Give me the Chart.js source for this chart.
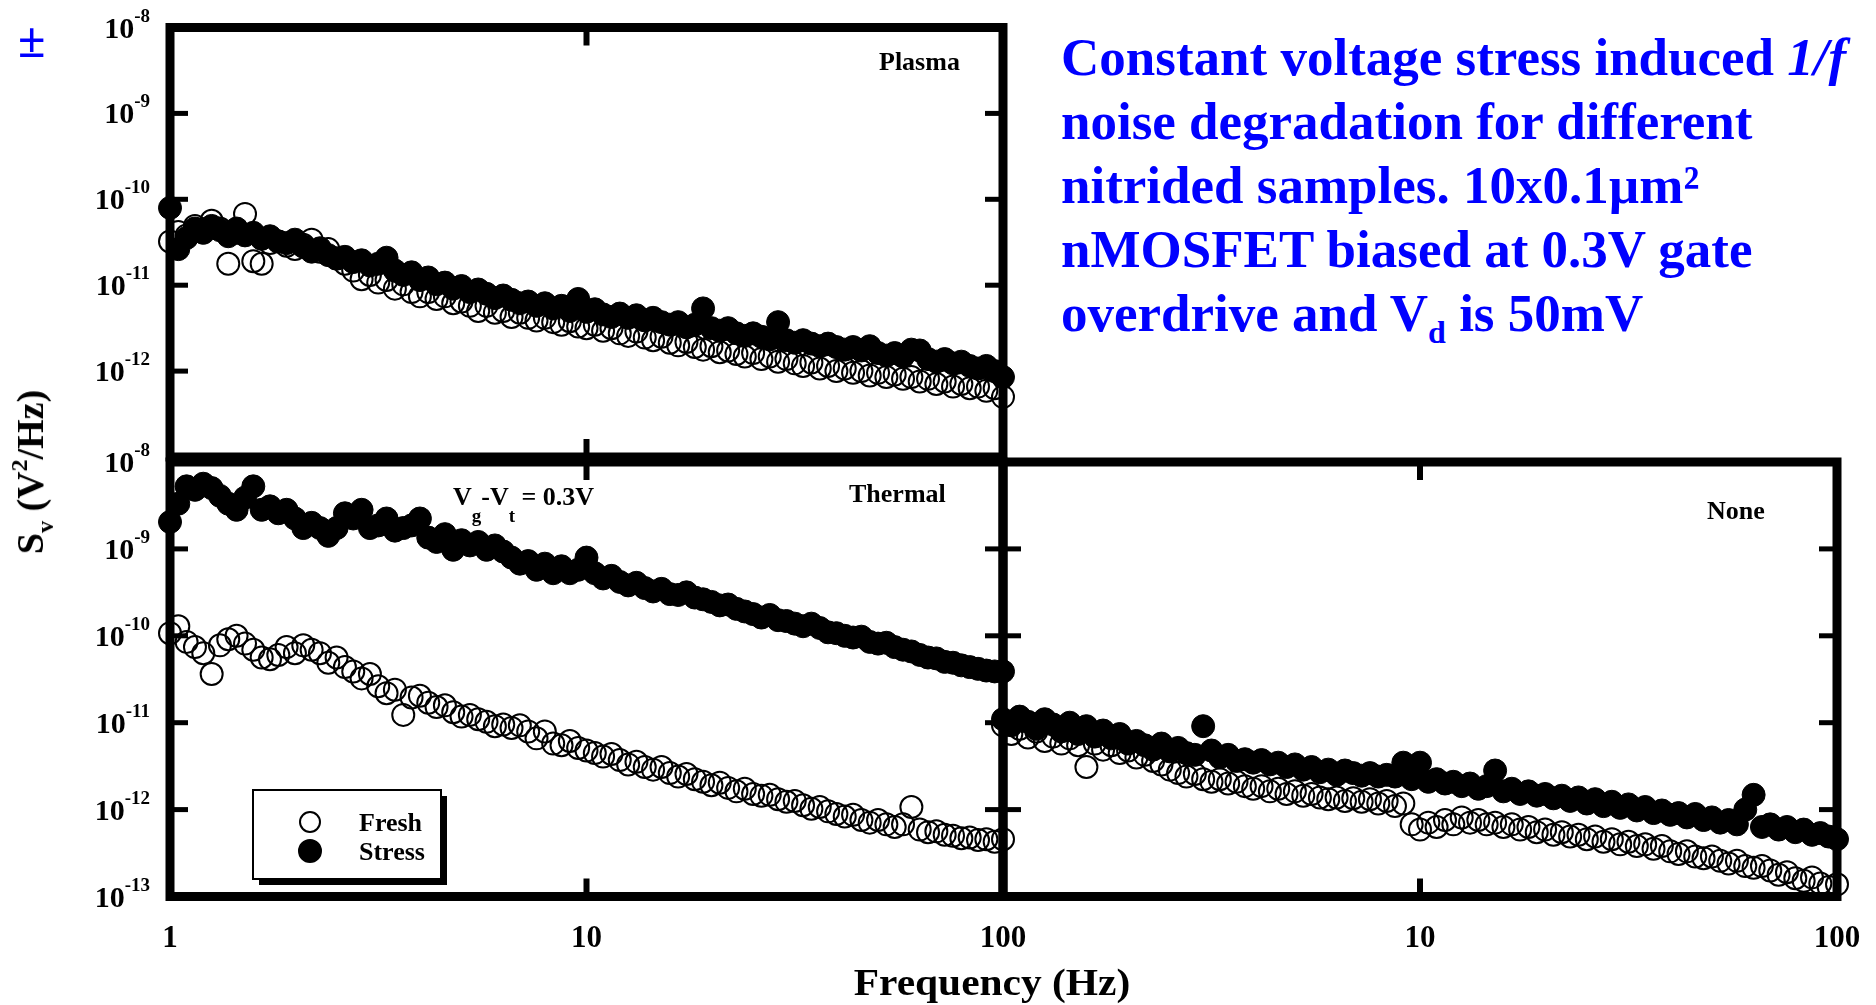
<!DOCTYPE html>
<html>
<head>
<meta charset="utf-8">
<script src="https://cdn.jsdelivr.net/npm/chart.js@4/dist/chart.umd.min.js"></script>
<style>
  body { margin: 0; background: #fff; width: 1876px; height: 1005px; overflow: hidden; position: relative; }
  canvas { position: absolute; }
  .t { position: absolute; line-height: 0; white-space: nowrap; font-family: "Liberation Serif", "Times New Roman", serif; font-weight: bold; color: #000; }
  .blue { color: #0000ff; font-size: 53px; left: 1061px; }
  .sub, .sup { position: relative; line-height: 0; }
</style>
</head>
<body>
<canvas id="plasma" width="1030" height="470" style="left:0;top:0"></canvas>
<canvas id="thermal" width="1030" height="565" style="left:0;top:440px"></canvas>
<canvas id="none" width="896" height="565" style="left:980px;top:440px"></canvas>

<div class="t" style="left:18px;top:40px;font-size:50px;color:#0000ff">±</div>
<div class="t" style="left:30px;top:471.5px;font-size:38px;transform-origin:0 0;transform:rotate(-90deg) translateX(-50%)">S<span class="sub" style="font-size:24px;top:10px">v</span> (V<span class="sup" style="font-size:24px;top:-16px">2</span>/Hz)</div>
<div class="t" style="left:992px;top:982.5px;font-size:37px;transform:translateX(-50%) scaleX(1.12)">Frequency (Hz)</div>

<div class="t" style="left:879px;top:62.2px;font-size:26px">Plasma</div>
<div class="t" style="left:849px;top:494.2px;font-size:26px">Thermal</div>
<div class="t" style="left:1707px;top:511.2px;font-size:26px">None</div>
<div class="t" style="left:453px;top:497.2px;font-size:26px">V<span class="sub" style="font-size:19px;top:17px">g</span>-V<span class="sub" style="font-size:19px;top:17px">t</span> = 0.3V</div>

<div class="t blue" style="top:57.1px">Constant voltage stress induced <i>1/f</i></div>
<div class="t blue" style="top:121.1px">noise degradation for different</div>
<div class="t blue" style="top:185.1px">nitrided samples. 10x0.1µm²</div>
<div class="t blue" style="top:249.1px">nMOSFET biased at 0.3V gate</div>
<div class="t blue" style="top:313.1px">overdrive and V<span class="sub" style="font-size:32px;top:12px">d</span> is 50mV</div>

<script>
// frequency points (Hz)
const freq = [
  1.000, 1.047, 1.096, 1.148, 1.202, 1.259, 1.318, 1.380, 1.445, 1.514,
  1.585, 1.660, 1.738, 1.820, 1.905, 1.995, 2.089, 2.188, 2.291, 2.399,
  2.512, 2.630, 2.754, 2.884, 3.020, 3.162, 3.311, 3.467, 3.631, 3.802,
  3.981, 4.169, 4.365, 4.571, 4.786, 5.012, 5.248, 5.495, 5.754, 6.026,
  6.310, 6.607, 6.918, 7.244, 7.586, 7.943, 8.318, 8.710, 9.120, 9.550,
  10.00, 10.47, 10.96, 11.48, 12.02, 12.59, 13.18, 13.80, 14.45, 15.14,
  15.85, 16.60, 17.38, 18.20, 19.05, 19.95, 20.89, 21.88, 22.91, 23.99,
  25.12, 26.30, 27.54, 28.84, 30.20, 31.62, 33.11, 34.67, 36.31, 38.02,
  39.81, 41.69, 43.65, 45.71, 47.86, 50.12, 52.48, 54.95, 57.54, 60.26,
  63.10, 66.07, 69.18, 72.44, 75.86, 79.43, 83.18, 87.10, 91.20, 95.50,
  100.0
];

// log10 of Sv (V^2/Hz)
const plasmaFresh = [
  -10.49, -10.38, -10.42, -10.31, -10.35, -10.25, -10.34, -10.75, -10.39, -10.17,
  -10.72, -10.75, -10.51, -10.49, -10.54, -10.58, -10.53, -10.47, -10.61, -10.58,
  -10.69, -10.75, -10.83, -10.93, -10.88, -10.97, -10.94, -11.04, -10.99, -11.08,
  -11.13, -11.08, -11.16, -11.13, -11.21, -11.19, -11.24, -11.30, -11.24, -11.32,
  -11.30, -11.37, -11.32, -11.38, -11.41, -11.38, -11.43, -11.46, -11.42, -11.48,
  -11.50, -11.46, -11.53, -11.50, -11.56, -11.59, -11.54, -11.61, -11.64, -11.60,
  -11.67, -11.70, -11.66, -11.72, -11.75, -11.71, -11.78, -11.76, -11.80, -11.83,
  -11.79, -11.86, -11.83, -11.89, -11.86, -11.91, -11.94, -11.90, -11.97, -11.94,
  -12.00, -11.97, -12.02, -12.00, -12.05, -12.02, -12.07, -12.04, -12.09, -12.07,
  -12.12, -12.09, -12.15, -12.12, -12.18, -12.15, -12.20, -12.18, -12.23, -12.20,
  -12.30
];
const plasmaStress = [
  -10.10, -10.58, -10.45, -10.34, -10.39, -10.31, -10.36, -10.43, -10.34, -10.42,
  -10.39, -10.46, -10.43, -10.49, -10.51, -10.47, -10.55, -10.61, -10.57, -10.65,
  -10.69, -10.67, -10.73, -10.71, -10.77, -10.75, -10.68, -10.83, -10.88, -10.85,
  -10.94, -10.91, -10.99, -10.97, -11.04, -11.01, -11.08, -11.05, -11.10, -11.15,
  -11.12, -11.17, -11.21, -11.19, -11.24, -11.21, -11.27, -11.24, -11.30, -11.16,
  -11.31, -11.28, -11.34, -11.37, -11.33, -11.38, -11.35, -11.41, -11.38, -11.43,
  -11.46, -11.43, -11.49, -11.46, -11.27, -11.50, -11.53, -11.50, -11.56, -11.59,
  -11.56, -11.60, -11.63, -11.43, -11.64, -11.67, -11.64, -11.68, -11.71, -11.68,
  -11.72, -11.75, -11.72, -11.76, -11.71, -11.79, -11.82, -11.79, -11.83, -11.75,
  -11.76, -11.86, -11.89, -11.86, -11.91, -11.89, -11.94, -11.97, -11.94, -12.00,
  -12.07
];
const thermalFresh = [
  -9.97, -9.89, -10.07, -10.13, -10.20, -10.44, -10.11, -10.04, -10.00, -10.09,
  -10.16, -10.25, -10.27, -10.22, -10.13, -10.20, -10.11, -10.16, -10.20, -10.31,
  -10.25, -10.36, -10.41, -10.49, -10.44, -10.58, -10.66, -10.62, -10.91, -10.71,
  -10.69, -10.77, -10.82, -10.80, -10.88, -10.93, -10.91, -10.96, -10.99, -11.04,
  -11.02, -11.06, -11.03, -11.10, -11.18, -11.10, -11.24, -11.26, -11.21, -11.29,
  -11.32, -11.35, -11.39, -11.36, -11.43, -11.48, -11.45, -11.51, -11.54, -11.51,
  -11.58, -11.62, -11.59, -11.65, -11.68, -11.72, -11.69, -11.75, -11.79, -11.76,
  -11.82, -11.84, -11.83, -11.88, -11.91, -11.90, -11.95, -11.99, -11.97, -12.02,
  -12.05, -12.08, -12.06, -12.12, -12.15, -12.12, -12.17, -12.20, -12.17, -11.97,
  -12.23, -12.26, -12.25, -12.29, -12.30, -12.33, -12.32, -12.35, -12.34, -12.37,
  -12.34
];
const thermalStress = [
  -8.69, -8.48, -8.28, -8.32, -8.25, -8.30, -8.39, -8.48, -8.55, -8.41,
  -8.28, -8.55, -8.51, -8.59, -8.55, -8.65, -8.76, -8.70, -8.76, -8.85,
  -8.76, -8.59, -8.65, -8.55, -8.76, -8.73, -8.65, -8.79, -8.76, -8.73,
  -8.65, -8.87, -8.92, -8.83, -9.01, -8.90, -8.96, -8.92, -9.01, -8.96,
  -9.03, -9.10, -9.17, -9.14, -9.24, -9.17, -9.28, -9.20, -9.28, -9.24,
  -9.10, -9.28, -9.34, -9.31, -9.38, -9.42, -9.39, -9.45, -9.49, -9.46,
  -9.52, -9.53, -9.50, -9.56, -9.58, -9.61, -9.65, -9.64, -9.69, -9.72,
  -9.75, -9.79, -9.76, -9.82, -9.83, -9.86, -9.89, -9.86, -9.91, -9.96,
  -9.97, -10.00, -10.02, -10.01, -10.07, -10.09, -10.08, -10.13, -10.16, -10.18,
  -10.22, -10.25, -10.26, -10.30, -10.31, -10.34, -10.36, -10.38, -10.40, -10.41,
  -10.41
];
const noneFresh = [
  -11.03, -11.13, -11.07, -11.17, -11.10, -11.21, -11.16, -11.24, -11.18, -11.26,
  -11.51, -11.24, -11.31, -11.26, -11.35, -11.32, -11.40, -11.37, -11.44, -11.48,
  -11.54, -11.58, -11.62, -11.59, -11.65, -11.68, -11.65, -11.70, -11.68, -11.73,
  -11.76, -11.73, -11.79, -11.76, -11.82, -11.79, -11.84, -11.82, -11.86, -11.88,
  -11.86, -11.90, -11.87, -11.91, -11.88, -11.93, -11.90, -11.96, -11.93, -12.17,
  -12.23, -12.15, -12.20, -12.12, -12.17, -12.09, -12.15, -12.12, -12.17, -12.15,
  -12.20, -12.17, -12.23, -12.20, -12.26, -12.23, -12.29, -12.26, -12.31, -12.29,
  -12.34, -12.31, -12.37, -12.34, -12.40, -12.37, -12.42, -12.40, -12.45, -12.42,
  -12.48, -12.51, -12.48, -12.54, -12.56, -12.54, -12.59, -12.62, -12.59, -12.65,
  -12.67, -12.65, -12.70, -12.75, -12.72, -12.79, -12.82, -12.78, -12.85, -12.89,
  -12.86
];
const noneStress = [
  -10.96, -11.03, -10.93, -10.99, -11.07, -10.96, -11.02, -11.10, -11.00, -11.13,
  -11.04, -11.16, -11.09, -11.18, -11.13, -11.24, -11.21, -11.26, -11.31, -11.24,
  -11.33, -11.29, -11.35, -11.37, -11.04, -11.32, -11.40, -11.37, -11.44, -11.42,
  -11.46, -11.43, -11.48, -11.46, -11.51, -11.48, -11.54, -11.51, -11.57, -11.54,
  -11.60, -11.55, -11.58, -11.61, -11.58, -11.62, -11.60, -11.62, -11.46, -11.65,
  -11.46, -11.68, -11.65, -11.70, -11.68, -11.73, -11.70, -11.76, -11.73, -11.55,
  -11.79, -11.76, -11.82, -11.79, -11.84, -11.82, -11.87, -11.84, -11.90, -11.86,
  -11.93, -11.88, -11.96, -11.91, -11.98, -11.94, -12.01, -11.97, -12.04, -12.01,
  -12.06, -12.04, -12.09, -12.05, -12.12, -12.09, -12.15, -12.12, -12.17, -12.00,
  -11.83, -12.20, -12.17, -12.23, -12.20, -12.26, -12.23, -12.29, -12.27, -12.31,
  -12.34
];

const xTicks = [1, 10, 100];
const yTicks = [1e-8, 1e-9, 1e-10, 1e-11, 1e-12, 1e-13];
const seriesNames = ["Fresh", "Stress"];

const FONT = '"Liberation Serif", "Times New Roman", serif';

const framePlugin = {
  id: "frame",
  afterDatasetsDraw(chart, args, o) {
    const ctx = chart.ctx;
    const a = chart.chartArea;
    const xs = chart.scales.x, ys = chart.scales.y;
    ctx.save();
    ctx.fillStyle = "#000";
    ctx.strokeStyle = "#000";

    // inward tick marks
    yTicks.forEach((v) => {
      const y = ys.getPixelForValue(v);
      if (y < a.top + 2 || y > a.bottom - 2) return;
      ctx.fillRect(a.left, y - 2.5, 18, 5);
      ctx.fillRect(a.right - 18, y - 2.5, 18, 5);
    });
    xTicks.forEach((v) => {
      const x = xs.getPixelForValue(v);
      if (x < a.left + 2 || x > a.right - 2) return;
      ctx.fillRect(x - 3, a.top, 6, 18);
      ctx.fillRect(x - 3, a.bottom - 18, 6, 18);
    });

    // frame
    ctx.lineWidth = 9;
    ctx.lineJoin = "miter";
    ctx.strokeRect(a.left, a.top, a.right - a.left, a.bottom - a.top);

    // y tick labels: 10^n
    (o.yLabels || []).forEach((v) => {
      const y = ys.getPixelForValue(v);
      const exp = String(Math.round(Math.log10(v)));
      ctx.font = "bold 19px " + FONT;
      const w2 = ctx.measureText(exp).width;
      ctx.font = "bold 30px " + FONT;
      const w1 = ctx.measureText("10").width;
      const right = a.left - 20;
      ctx.textAlign = "left";
      ctx.textBaseline = "alphabetic";
      ctx.fillText("10", right - w1 - w2, y + 10);
      ctx.font = "bold 19px " + FONT;
      ctx.fillText(exp, right - w2, y - 6);
    });

    // x tick labels
    ctx.font = "bold 31px " + FONT;
    ctx.textAlign = "center";
    ctx.textBaseline = "alphabetic";
    (o.xLabels || []).forEach((v) => {
      ctx.fillText(String(v), xs.getPixelForValue(v), a.bottom + 50);
    });

    // legend box
    if (o.legend) {
      const L = a.left + 83, T = a.top + 328, W = 188, H = 89;
      ctx.fillRect(L + 6, T + 6, W, H);
      ctx.fillStyle = "#fff";
      ctx.fillRect(L, T, W, H);
      ctx.lineWidth = 2;
      ctx.strokeRect(L, T, W, H);
      const cx = L + 57;
      [T + 32, T + 61].forEach((cy, k) => {
        const ds = chart.data.datasets.find((d) => d.label === seriesNames[k]);
        ctx.beginPath();
        ctx.arc(cx, cy, k === 0 ? 10 : 11, 0, Math.PI * 2);
        if (k === 1) { ctx.fillStyle = ds.backgroundColor; ctx.fill(); }
        ctx.lineWidth = 2;
        ctx.strokeStyle = ds.borderColor;
        ctx.stroke();
        ctx.fillStyle = "#000";
        ctx.font = "bold 26px " + FONT;
        ctx.textAlign = "left";
        ctx.fillText(seriesNames[k], L + 106, cy + 9);
      });
    }
    ctx.restore();
  },
};

function makePanel(id, fresh, stress, padding, opts) {
  const pts = (arr) => freq.map((f, i) => ({ x: f, y: Math.pow(10, arr[i]) }));
  new Chart(document.getElementById(id), {
    type: "scatter",
    data: {
      datasets: [
        {
          label: "Stress",
          data: pts(stress),
          pointRadius: 11.5,
          pointBorderWidth: 1,
          backgroundColor: "#000",
          borderColor: "#000",
          clip: false,
        },
        {
          label: "Fresh",
          data: pts(fresh),
          pointRadius: 11,
          pointBorderWidth: 2,
          backgroundColor: "rgba(0,0,0,0)",
          borderColor: "#000",
          clip: false,
        },
      ],
    },
    options: {
      responsive: false,
      animation: false,
      devicePixelRatio: 1,
      events: [],
      layout: { padding },
      scales: {
        x: { type: "logarithmic", min: 1, max: 100, display: false },
        y: { type: "logarithmic", min: 1e-13, max: 1e-8, display: false },
      },
      plugins: {
        legend: { display: false },
        tooltip: { enabled: false },
        frame: opts,
      },
    },
    plugins: [framePlugin],
  });
}

makePanel("plasma", plasmaFresh, plasmaStress,
  { left: 170, top: 27.5, right: 27, bottom: 8 },
  { yLabels: [1e-8, 1e-9, 1e-10, 1e-11, 1e-12], xLabels: [] });
makePanel("thermal", thermalFresh, thermalStress,
  { left: 170, top: 22, right: 27, bottom: 108.5 },
  { yLabels: yTicks, xLabels: xTicks, legend: true });
makePanel("none", noneFresh, noneStress,
  { left: 23, top: 22, right: 39, bottom: 108.5 },
  { yLabels: [], xLabels: [10, 100] });
</script>
</body>
</html>
